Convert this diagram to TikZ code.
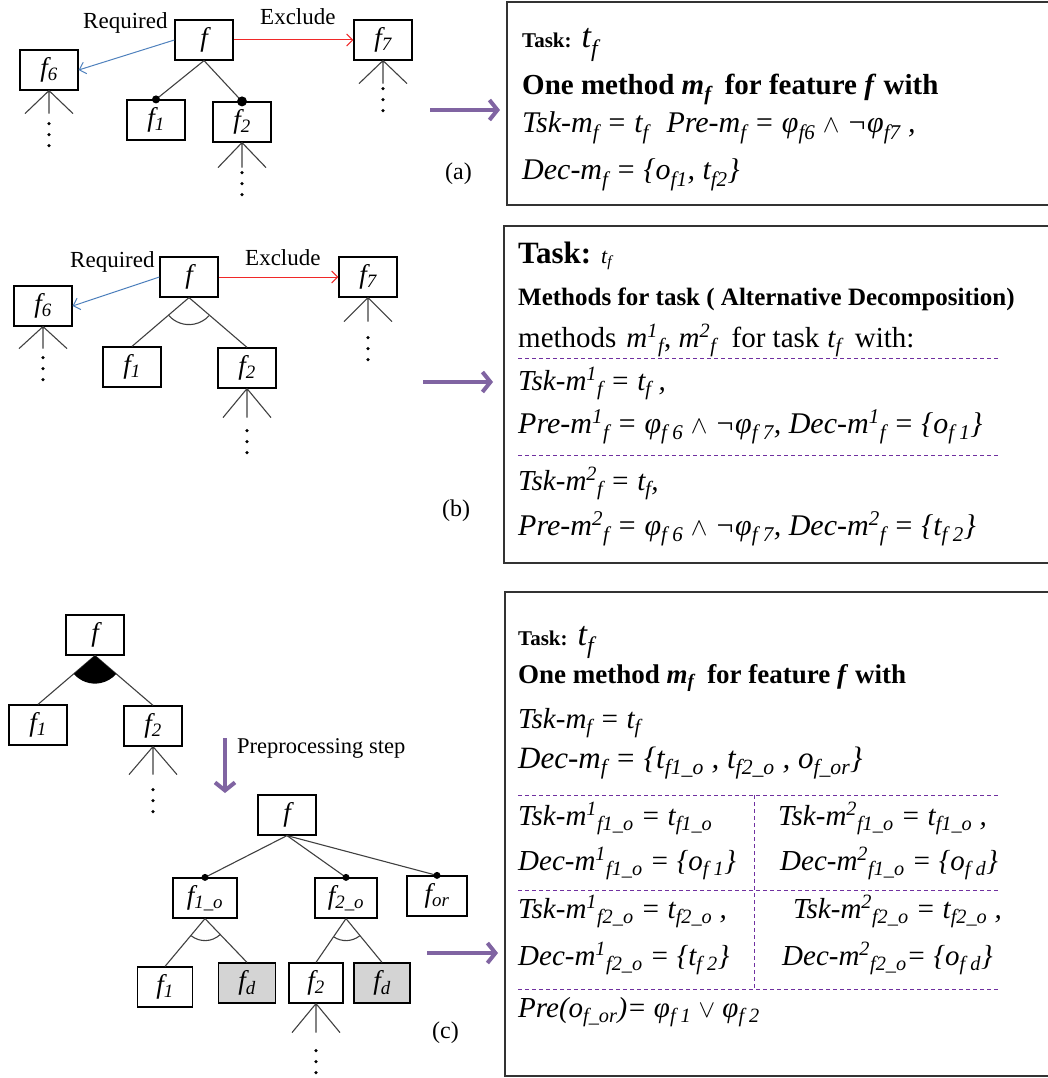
\documentclass[tikz,border=0pt]{standalone}
\usepackage{fontspec}
\setmainfont{Liberation Serif}
\usetikzlibrary{arrows.meta,calc}

\definecolor{reqblue}{RGB}{79,129,189}
\definecolor{exred}{RGB}{240,40,40}
\definecolor{stepviolet}{RGB}{128,100,162}
\definecolor{sepviolet}{RGB}{112,48,160}

\newcommand{\fsz}[1]{\fontsize{#1}{#1}\selectfont}
\newcommand{\subx}[1]{\textsubscript{#1}}
\newcommand{\supx}[1]{\textsuperscript{#1}}
% open sub-tree below a feature: three strokes and a column of dots
\newcommand{\fork}[3]{%
  \draw[branch] (#1) -- ++(-24,-#2) (#1) -- ++(0,-#2) (#1) -- ++(24,-#2);
  \foreach \d in {0,11,22} \fill ($(#1)+(0,-#3-\d)$) circle (1.8);}

\tikzset{
  feat/.style={draw, line width=1.2, minimum width=58, minimum height=40, inner sep=0, font=\fsz{27}\itshape},
  pseudo/.style={feat, fill=black!17},
  branch/.style={black!75, line width=1.1},
  req/.style={draw=reqblue, line width=1, -{Straight Barb[length=6pt,width=12pt]}},
  excl/.style={draw=exred, line width=1, -{Straight Barb[length=6pt,width=12pt]}},
  stepflow/.style={draw=stepviolet, line width=4, -{Straight Barb[length=8pt,width=20pt]}},
  panel/.style={draw=black!80, line width=1.6},
  divider/.style={draw=sepviolet, line width=1, dash pattern=on 4pt off 3pt},
  txt/.style={anchor=base west, inner sep=0},
  lbl/.style={txt, font=\fsz{23}},
  eqline/.style={txt, font=\fsz{29}\itshape},
}

\begin{document}
\begin{tikzpicture}[x=1pt, y=1pt]
\useasboundingbox (0,0) rectangle (1047,-1078);

% (a) mandatory children
\node[feat] (fa) at (204,-40) {f};
\node[feat] (f6a) at (49,-70) {f\subx{6}};
\node[feat] (f7a) at (383,-40) {f\subx{7}};
\node[feat] (f1a) at (156,-120) {f\subx{1}};
\node[feat] (f2a) at (242,-122) {f\subx{2}};
\node[lbl] (rqa) at (83,-29) {Required};
\node[lbl] (exa) at (260,-25) {Exclude};
\draw[req] (fa.west) -- (f6a.east);
\draw[excl] (fa.east) -- (f7a.west);
\draw[branch] (fa.south) -- (f1a.north);
\draw[branch] (fa.south) -- (f2a.north);
\fill (f1a.north) circle (4);
\fill (f2a.north) circle (5);
\fork{f6a.south}{23}{33}
\fork{f7a.south}{23}{28}
\fork{f2a.south}{25}{30}
\node[lbl, font=\fsz{24}] (capa) at (445,-180) {(a)};
\coordinate (ina) at (430,-110);
\coordinate (outa) at (500,-110);
\draw[stepflow] (ina) -- (outa);

\draw[panel] (1050,-2) -| (507,-205) -- (1050,-205);
\node[txt] (taska) at (522,-48) {{\fsz{21}\bfseries Task:}\hspace{10pt}{\fsz{34}\itshape t\subx{f}}};
\node[txt, font=\fsz{29}\bfseries] (onea) at (522,-95) {One method \textit{m\subx{f}}\hspace{6pt} for feature \textit{f} with};
\node[eqline, font=\fsz{30}\itshape] (tska) at (522,-133) {Tsk-m\subx{f} = t\subx{f}\hspace{10pt} Pre-m\subx{f} = φ\subx{f6} $\wedge$ ¬φ\subx{f7} ,};
\node[eqline, font=\fsz{30}\itshape] (deca) at (522,-180) {Dec-m\subx{f} = \{o\subx{f1}, t\subx{f2}\}};

% (b) alternative group
\node[feat] (fb) at (189,-277) {f};
\node[feat] (f6b) at (43,-306) {f\subx{6}};
\node[feat] (f7b) at (368,-277) {f\subx{7}};
\node[feat] (f1b) at (132,-367) {f\subx{1}};
\node[feat] (f2b) at (247,-368) {f\subx{2}};
\node[lbl] (rqb) at (70,-267) {Required};
\node[lbl] (exb) at (245,-265) {Exclude};
\draw[req] (fb.west) -- (f6b.east);
\draw[excl] (fb.east) -- (f7b.west);
\draw[branch] (fb.south) -- (f1b.north);
\draw[branch] (fb.south) -- (f2b.north);
\draw[branch] ($(fb.south)+(221:27)$) arc (221:318:27);
\fork{f6b.south}{22}{31}
\fork{f7b.south}{24}{40}
\fork{f2b.south}{29}{42}
\node[lbl, font=\fsz{24}] (capb) at (442,-516) {(b)};
\coordinate (inb) at (423,-382);
\coordinate (outb) at (493,-382);
\draw[stepflow] (inb) -- (outb);

\draw[panel] (1050,-226) -| (504,-563) -- (1050,-563);
\node[txt] (taskb) at (518,-263) {{\fsz{31}\bfseries Task:}\hspace{10pt}{\fsz{22}\itshape t\subx{f}}};
\node[txt, font=\fsz{25}\bfseries] (methb) at (518,-305) {Methods for task ( Alternative Decomposition)};
\node[txt, font=\fsz{29}] (withb) at (518,-347) {methods\hspace{10pt}\textit{m\supx{1}\subx{f}}, \textit{m\supx{2}\subx{f}}\hspace{8pt} for task\hspace{8pt}\textit{t\subx{f}}\hspace{6pt} with:};
\draw[divider] (518,-358) -- (998,-358);
\node[eqline] (tsk1b) at (518,-390) {Tsk-m\supx{1}\subx{f} = t\subx{f} ,};
\node[eqline, font=\fsz{30}\itshape] (pre1b) at (518,-433) {Pre-m\supx{1}\subx{f} = φ\subx{f 6} $\wedge$ ¬φ\subx{f 7}, Dec-m\supx{1}\subx{f} = \{o\subx{f 1}\}};
\draw[divider] (518,-455) -- (1000,-455);
\node[eqline] (tsk2b) at (518,-490) {Tsk-m\supx{2}\subx{f} = t\subx{f},};
\node[eqline, font=\fsz{30}\itshape] (pre2b) at (518,-535) {Pre-m\supx{2}\subx{f} = φ\subx{f 6} $\wedge$ ¬φ\subx{f 7}, Dec-m\supx{2}\subx{f} = \{t\subx{f 2}\}};

% (c) or group, before and after preprocessing
\node[feat] (fc) at (95,-635) {f};
\node[feat] (f1c) at (38,-725) {f\subx{1}};
\node[feat] (f2c) at (153,-726) {f\subx{2}};
\draw[branch] (fc.south) -- (f1c.north);
\draw[branch] (fc.south) -- (f2c.north);
\fill (fc.south) -- ++(221:28) arc (221:319:28) -- cycle;
\fork{f2c.south}{28}{43}
\coordinate (prein) at (225,-738);
\coordinate (preout) at (225,-793);
\draw[stepflow] (prein) -- (preout);
\node[lbl, font=\fsz{22.5}] (prep) at (237,-753) {Preprocessing step};

\node[feat] (fd) at (287,-815) {f};
\node[feat, minimum width=64] (f1o) at (205,-898) {f\subx{1\_o}};
\node[feat, minimum width=62] (f2o) at (346,-898) {f\subx{2\_o}};
\node[feat, minimum width=60] (for) at (437,-896) {f\subx{or}};
\node[feat, minimum width=55] (f1d) at (165,-987) {f\subx{1}};
\node[pseudo, minimum width=57] (fd1) at (247,-983) {f\subx{d}};
\node[feat, minimum width=54] (f2d) at (316,-983) {f\subx{2}};
\node[pseudo, minimum width=56] (fd2) at (382,-983) {f\subx{d}};
\foreach \c in {f1o,f2o,for} {
  \draw[branch] (fd.south) -- (\c.north);
  \fill (\c.north) circle (3.5);
}
\draw[branch] (f1o.south) -- (f1d.north);
\draw[branch] (f1o.south) -- (fd1.north);
\draw[branch] ($(f1o.south)+(231:22)$) arc (231:313:22);
\draw[branch] (f2o.south) -- (f2d.north);
\draw[branch] (f2o.south) -- (fd2.north);
\draw[branch] ($(f2o.south)+(236:22)$) arc (236:309:22);
\fork{f2d.south}{29}{47}
\node[lbl, font=\fsz{24}] (capc) at (432,-1038) {(c)};
\coordinate (inc) at (427,-953);
\coordinate (outc) at (498,-953);
\draw[stepflow] (inc) -- (outc);

\draw[panel] (1050,-592) -| (505,-1076) -- (1050,-1076);
\node[txt] (taskc) at (518,-645) {{\fsz{21}\bfseries Task:}\hspace{10pt}{\fsz{34}\itshape t\subx{f}}};
\node[txt, font=\fsz{27}\bfseries] (onec) at (518,-683) {One method \textit{m\subx{f}}\hspace{6pt} for feature \textit{f} with};
\node[eqline] (tskc) at (518,-728) {Tsk-m\subx{f} = t\subx{f}};
\node[eqline, font=\fsz{31}\itshape] (decc) at (518,-768) {Dec-m\subx{f} = \{t\subx{f1\_o} , t\subx{f2\_o} , o\subx{f\_or}\}};
\draw[divider] (518,-795) -- (1000,-795);
\draw[divider] (754,-795) -- (754,-989);
\node[eqline] (t11) at (518,-825) {Tsk-m\supx{1}\subx{f1\_o} = t\subx{f1\_o}};
\node[eqline] (d11) at (518,-870) {Dec-m\supx{1}\subx{f1\_o} = \{o\subx{f 1}\}};
\node[eqline] (t21) at (778,-825) {Tsk-m\supx{2}\subx{f1\_o} = t\subx{f1\_o} ,};
\node[eqline] (d21) at (780,-870) {Dec-m\supx{2}\subx{f1\_o} = \{o\subx{f d}\}};
\draw[divider] (518,-890) -- (1000,-890);
\node[eqline] (t12) at (518,-918) {Tsk-m\supx{1}\subx{f2\_o} = t\subx{f2\_o} ,};
\node[eqline] (d12) at (518,-965) {Dec-m\supx{1}\subx{f2\_o} = \{t\subx{f 2}\}};
\node[eqline] (t22) at (793,-918) {Tsk-m\supx{2}\subx{f2\_o} = t\subx{f2\_o} ,};
\node[eqline] (d22) at (782,-965) {Dec-m\supx{2}\subx{f2\_o}= \{o\subx{f d}\}};
\draw[divider] (518,-989) -- (1000,-989);
\node[eqline] (prec) at (518,-1017) {Pre(o\subx{f\_or})= φ\subx{f 1} $\vee$ φ\subx{f 2}};
\end{tikzpicture}
\end{document}
